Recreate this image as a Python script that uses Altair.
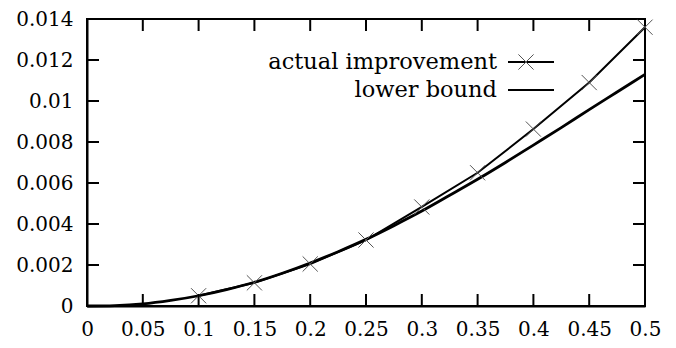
import altair as alt
import pandas as pd

# ---- data ----
actual_x = [0.10, 0.15, 0.20, 0.25, 0.30, 0.35, 0.40, 0.45, 0.50]
actual_y = [0.0005, 0.00113, 0.00205, 0.00322, 0.00483, 0.0065, 0.00863, 0.0109, 0.0136]

lower_x = [0.0, 0.025, 0.05, 0.075, 0.10, 0.125, 0.15, 0.175, 0.20, 0.225, 0.25,
           0.275, 0.30, 0.325, 0.35, 0.375, 0.40, 0.425, 0.45, 0.475, 0.50]
lower_y = [0.0, 0.00002, 0.0001, 0.00027, 0.0005, 0.0008, 0.00116, 0.0016, 0.0021,
           0.00265, 0.00325, 0.00392, 0.00463, 0.0054, 0.00618, 0.0070, 0.00785, 0.0087,
           0.00958, 0.01044, 0.0113]

x_ticks = [0, 0.05, 0.1, 0.15, 0.2, 0.25, 0.3, 0.35, 0.4, 0.45, 0.5]
y_ticks = [0, 0.002, 0.004, 0.006, 0.008, 0.01, 0.012, 0.014]
legend_labels = ["actual improvement", "lower bound"]

W, H = 558, 287
FONT = "DejaVu Serif"
CROSS = "M-1,-1L1,1M-1,1L1,-1"

actual = pd.DataFrame({"x": actual_x, "y": actual_y})
lower = pd.DataFrame({"x": lower_x, "y": lower_y})
xt = pd.DataFrame({"x": x_ticks[1:-1]})
yt = pd.DataFrame({"y": y_ticks[1:-1]})

xscale = alt.Scale(domain=[0, 0.5], nice=False, zero=False)
yscale = alt.Scale(domain=[0, 0.014], nice=False, zero=False)

xaxis = alt.Axis(values=x_ticks, format=".2~f", title=None, grid=False, ticks=False,
                 tickSize=0, domainColor="black", domainWidth=2, labelFont=FONT,
                 labelFontSize=20, labelColor="black", labelPadding=13, labelFlush=False)
yaxis = alt.Axis(values=y_ticks, format=".3~f", title=None, grid=False, ticks=False,
                 tickSize=0, domainColor="black", domainWidth=2, labelFont=FONT,
                 labelFontSize=20, labelColor="black", labelPadding=14, labelFlush=False)

X = alt.X("x:Q", scale=xscale, axis=xaxis)
Y = alt.Y("y:Q", scale=yscale, axis=yaxis)

lower_line = alt.Chart(lower).mark_line(color="black", strokeWidth=2.8, interpolate="monotone").encode(x=X, y=Y)
actual_line = alt.Chart(actual).mark_line(color="black", strokeWidth=2).encode(x=X, y=Y)
actual_pts = alt.Chart(actual).mark_point(shape=CROSS, size=230, filled=False, stroke="#555",
                                          strokeWidth=1, opacity=1).encode(x=X, y=Y)

tick_style = dict(color="black", strokeWidth=2)
bottom_ticks = alt.Chart(xt).mark_rule(**tick_style).encode(x=X, y=alt.value(H), y2=alt.value(H - 12))
top_ticks = alt.Chart(xt).mark_rule(**tick_style).encode(x=X, y=alt.value(0), y2=alt.value(12))
left_ticks = alt.Chart(yt).mark_rule(**tick_style).encode(y=Y, x=alt.value(0), x2=alt.value(12))
right_ticks = alt.Chart(yt).mark_rule(**tick_style).encode(y=Y, x=alt.value(W), x2=alt.value(W - 12))

leg = pd.DataFrame({"label": legend_labels})
row_y = [43, 71]
legend_layers = []
for i, lab in enumerate(legend_labels):
    d = leg[leg["label"] == lab]
    legend_layers.append(
        alt.Chart(d).mark_text(align="right", baseline="middle", font=FONT, fontSize=22.5,
                               color="black").encode(text="label:N", x=alt.value(410), y=alt.value(row_y[i]))
    )
    legend_layers.append(
        alt.Chart(d).mark_rule(color="black", strokeWidth=2).encode(
            x=alt.value(421), x2=alt.value(467), y=alt.value(row_y[i]))
    )
legend_layers.append(
    alt.Chart(leg[leg["label"] == legend_labels[0]]).mark_point(
        shape=CROSS, size=230, filled=False, stroke="#555", strokeWidth=1, opacity=1
    ).encode(x=alt.value(439), y=alt.value(row_y[0]))
)

chart = alt.layer(
    lower_line, actual_line, actual_pts,
    bottom_ticks, top_ticks, left_ticks, right_ticks,
    *legend_layers,
).properties(
    width=W, height=H,
    autosize=alt.AutoSizeParams(type="none"),
    padding={"left": 79, "top": 11, "right": 23, "bottom": 34},
).configure(background="white").configure_view(stroke="black", strokeWidth=2)

chart.save("out.html", embed_options={"renderer": "svg", "actions": False})
